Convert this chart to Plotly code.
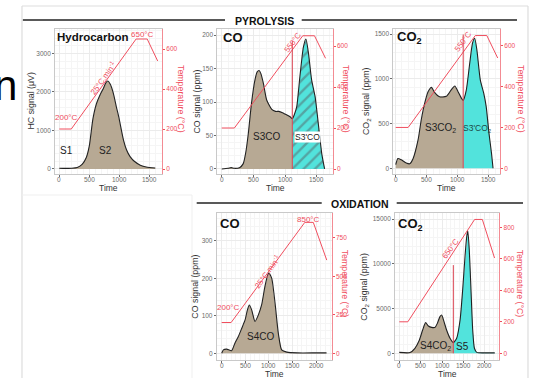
import plotly.graph_objects as go

W, H = 533, 378
def PX(x): return x / W
def PY(y): return 1 - y / H

RED = "#f04e5e"
RED_AX = "#f38b93"
TAN = "#b7a994"
CYAN = "#52e3dc"
TICK_GRAY = "#6b6b6b"
BORDER = "#c9c9c9"
GRID = "#ebebeb"
GRID_MINOR = "#f5f5f5"
FONT = "Liberation Sans, Arial, sans-serif"

# ---------------- data ----------------
hc_time = [0, 100, 200, 300, 380, 450, 500, 560, 620, 680, 730, 780, 810, 850, 900, 950, 990, 1070, 1120, 1180, 1250, 1350, 1450, 1600]
hc_signal = [20, 15, 20, 40, 120, 300, 600, 1300, 1700, 1930, 2080, 2250, 2285, 2200, 1970, 1620, 1360, 750, 500, 320, 200, 100, 50, 25]

co_pyr_time = [0, 100, 150, 200, 280, 340, 380, 420, 470, 525, 560, 590, 620, 660, 710, 790, 850, 900, 960, 1000, 1080, 1115, 1150, 1185, 1235, 1290, 1330, 1370, 1420, 1475, 1525, 1580, 1625]
co_pyr_signal = [0, 1, 2, 1, 2, 8, 25, 53, 98, 133, 145, 147, 142, 127, 103, 89, 86, 86, 84, 82, 78, 75, 82, 93, 138, 182, 194, 173, 133, 108, 68, 23, 0]
co_pyr_split = 1115

co2_pyr_time = [0, 35, 90, 170, 225, 280, 360, 410, 465, 520, 575, 625, 705, 815, 895, 950, 1000, 1055, 1085, 1135, 1190, 1235, 1270, 1305, 1360, 1415, 1455, 1500, 1540, 1565]
co2_pyr_signal = [40, 110, 95, 58, 50, 110, 320, 540, 725, 855, 905, 850, 800, 805, 880, 920, 860, 785, 760, 875, 1175, 1400, 1455, 1325, 990, 840, 690, 390, 170, 0]
co2_pyr_split = 1085

co_ox_time = [0, 35, 105, 210, 280, 350, 425, 495, 545, 585, 635, 705, 775, 845, 915, 975, 1000, 1060, 1130, 1200, 1270, 1380, 1600, 2000, 2220]
co_ox_signal = [0, 9, 11, 7, 27, 44, 67, 89, 116, 129, 116, 85, 102, 129, 178, 209, 215, 200, 134, 53, 9, 3, 1, 1, 1]

co2_ox_time = [0, 250, 365, 470, 545, 615, 680, 755, 835, 890, 950, 990, 1045, 1105, 1185, 1262, 1340, 1420, 1480, 1535, 1575, 1600, 1635, 1675, 1715, 1755, 1810, 2000, 2230]
co2_ox_signal = [100, 80, 560, 1490, 2600, 3430, 3050, 2900, 2900, 3360, 4100, 4280, 3540, 2600, 1680, 1190, 1680, 3720, 7080, 10800, 13050, 13700, 11550, 7080, 2600, 560, 100, 50, 50]
co2_ox_split = 1262

pyr_temp_time = [0, 200, 1280, 1465, 1640]
pyr_temp = [200, 200, 650, 650, 540]
ox_temp_time = [0, 200, 1760, 1940, 2225]
ox_temp = [200, 200, 850, 850, 605]

pyr_time_ticks = [0, 500, 1000, 1500]
ox_time_ticks = [0, 500, 1000, 1500, 2000]

panels = [
    dict(t=hc_time, s=hc_signal, split=None, hatch=False, tt=pyr_temp_time, tv=pyr_temp, split_top=None,
         dom=(55, 162, 29, 174), xr=[-72, 1712], yr=[-130, 3636], tr=[-25, 700],
         xt=pyr_time_ticks, yt=[0, 1000, 2000, 3000], ttk=[0, 200, 400, 600],
         ytitle="HC signal (μV)", ytx=30, ttx=181.5),
    dict(t=co_pyr_time, s=co_pyr_signal, split=co_pyr_split, hatch=True, tt=pyr_temp_time, tv=pyr_temp, split_top=625,
         dom=(217.3, 332.7, 29, 174), xr=[-70, 1753], yr=[-7.5, 209], tr=[-24.4, 683],
         xt=pyr_time_ticks, yt=[0, 50, 100, 150, 200], ttk=[0, 200, 400, 600],
         ytitle="CO signal (ppm)", ytx=196, ttx=346.5),
    dict(t=co2_pyr_time, s=co2_pyr_signal, split=co2_pyr_split, hatch=False, tt=pyr_temp_time, tv=pyr_temp, split_top=655,
         dom=(393.3, 500, 29, 174), xr=[-39, 1677], yr=[-64, 1558], tr=[-28, 682],
         xt=pyr_time_ticks, yt=[0, 500, 1000, 1500], ttk=[0, 200, 400, 600],
         ytitle="CO<sub>2</sub> signal (ppm)", ytx=366.5, ttx=521.5),
    dict(t=co_ox_time, s=co_ox_signal, split=None, hatch=False, tt=ox_temp_time, tv=ox_temp, split_top=None,
         dom=(216.7, 331.7, 213.3, 360), xr=[-106, 2330], yr=[-18, 374], tr=[-43.5, 909],
         xt=ox_time_ticks, yt=[0, 100, 200, 300], ttk=[0, 250, 500, 750],
         ytitle="CO signal (ppm)", ytx=195, ttx=345),
    dict(t=co2_ox_time, s=co2_ox_signal, split=co2_ox_split, hatch=False, tt=ox_temp_time, tv=ox_temp, split_top=560,
         dom=(395, 499.3, 213.3, 360), xr=[-100, 2336], yr=[-750, 15660], tr=[-42.5, 889],
         xt=ox_time_ticks, yt=[0, 5000, 10000, 15000], ttk=[0, 200, 400, 600, 800],
         ytitle="CO<sub>2</sub> signal (ppm)", ytx=365, ttx=520),
]

fig = go.Figure()
layout = dict(width=W, height=H, margin=dict(l=0, r=0, t=0, b=0),
              paper_bgcolor="white", plot_bgcolor="white", showlegend=False,
              font=dict(family=FONT))
annotations = []
shapes = []

def ann(text, x, y, size=9, color="#222", bold=False, angle=0, xanchor="center", yanchor="middle", bg=None):
    if bold:
        text = "<b>" + text + "</b>"
    d = dict(text=text, x=PX(x), y=PY(y), xref="paper", yref="paper", showarrow=False,
             font=dict(size=size, color=color, family=FONT), textangle=angle,
             xanchor=xanchor, yanchor=yanchor, borderpad=0)
    if bg:
        d["bgcolor"] = bg
    annotations.append(d)

for i, p in enumerate(panels, start=1):
    xn = "x" if i == 1 else f"x{i}"
    yn = "y" if i == 1 else f"y{2*i-1}"
    tn = f"y{2*i}"
    xk = "xaxis" if i == 1 else f"xaxis{i}"
    yk = "yaxis" if i == 1 else f"yaxis{2*i-1}"
    tk = f"yaxis{2*i}"
    l, r, top, bot = p["dom"]
    t, s = p["t"], p["s"]
    if p["split"] is None:
        fig.add_trace(go.Scatter(x=t, y=s, xaxis=xn, yaxis=yn, mode="lines", line=dict(width=0),
                                 fill="tozeroy", fillcolor=TAN, hoverinfo="skip"))
    else:
        k = t.index(p["split"])
        fig.add_trace(go.Scatter(x=t[:k+1], y=s[:k+1], xaxis=xn, yaxis=yn, mode="lines", line=dict(width=0),
                                 fill="tozeroy", fillcolor=TAN, hoverinfo="skip"))
        extra = {}
        if p["hatch"]:
            extra["fillpattern"] = dict(shape="/", fgcolor="#56666a", bgcolor=CYAN, size=8, solidity=0.3)
        fig.add_trace(go.Scatter(x=t[k:], y=s[k:], xaxis=xn, yaxis=yn, mode="lines", line=dict(width=0),
                                 fill="tozeroy", fillcolor=CYAN, hoverinfo="skip", **extra))
    fig.add_trace(go.Scatter(x=t, y=s, xaxis=xn, yaxis=yn, mode="lines",
                             line=dict(color="#222222", width=1.1, shape="spline", smoothing=0.6)))
    fig.add_trace(go.Scatter(x=p["tt"], y=p["tv"], xaxis=xn, yaxis=tn, mode="lines",
                             line=dict(color=RED, width=1)))
    if p["split"] is not None:
        fig.add_trace(go.Scatter(x=[p["split"], p["split"]], y=[0, p["split_top"]], xaxis=xn, yaxis=tn,
                                 mode="lines", line=dict(color="#d9404f", width=1)))

    layout[xk] = dict(domain=[PX(l), PX(r)], range=p["xr"], anchor=yn, tickvals=p["xt"],
                      ticks="outside", ticklen=2, tickcolor=TICK_GRAY, tickwidth=0.8,
                      showticklabels=False, showgrid=True, gridcolor=GRID, gridwidth=0.8,
                      minor=dict(showgrid=True, gridcolor=GRID_MINOR, gridwidth=0.5),
                      showline=True, linecolor=BORDER, linewidth=0.8, mirror=True, zeroline=False)
    layout[yk] = dict(domain=[PY(bot), PY(top)], range=p["yr"], anchor=xn, tickvals=p["yt"],
                      tickformat="d",
                      ticks="outside", ticklen=2, tickcolor=TICK_GRAY, tickwidth=0.8,
                      tickfont=dict(size=6.5, color=TICK_GRAY), showgrid=True, gridcolor=GRID, gridwidth=0.8,
                      minor=dict(showgrid=True, gridcolor=GRID_MINOR, gridwidth=0.5),
                      showline=True, linecolor=BORDER, linewidth=0.8, zeroline=False)
    layout[tk] = dict(overlaying=yn, side="right", anchor=xn, range=p["tr"], tickvals=p["ttk"],
                      ticks="outside", ticklen=2, tickcolor=RED, tickwidth=0.8,
                      tickfont=dict(size=6.5, color=RED), showgrid=False,
                      showline=True, linecolor=RED_AX, linewidth=1, zeroline=False)

    # x tick labels placed through the x axis scale
    lab_y = bot + 5.5
    for v in p["xt"]:
        annotations.append(dict(text=str(v), x=v, xref=xn, y=PY(lab_y), yref="paper", showarrow=False,
                                font=dict(size=6.5, color=TICK_GRAY, family=FONT),
                                xanchor="center", yanchor="middle", borderpad=0))

    cy = (top + bot) / 2
    ann(p["ytitle"], p["ytx"], cy, size=8.8, color="#333", angle=-90)
    ann("Temperature (°C)", p["ttx"], cy - 3, size=8.8, color=RED, angle=90)
    ann("Time", (l + r) / 2, bot + 14, size=8.5, color="#333")

# panel texts
ann("Hydrocarbon", 56, 37, size=11.5, color="#111", bold=True, xanchor="left")
ann("650°C", 142, 35, size=8, color=RED)
ann("200°C", 66.5, 117, size=8, color=RED)
ann("25°C.min<sup>-1</sup>", 103, 78, size=8, color=RED, angle=-54)
ann("S1", 66.7, 150.7, size=10, color="#222")
ann("S2", 105, 150.7, size=10, color="#222")

ann("CO", 222, 37, size=13, color="#111", bold=True, xanchor="left")
ann("550°C", 293, 43, size=8, color=RED, angle=-54)
ann("S3CO", 266.7, 136.7, size=10, color="#222")
ann("S3'CO", 307, 136.7, size=8.5, color="#222", bg="white")

ann("CO<sub>2</sub>", 396, 38, size=13, color="#111", bold=True, xanchor="left")
ann("550°C", 463.3, 41.7, size=8, color=RED, angle=-54)
ann("S3CO<sub>2</sub>", 440, 128.3, size=10, color="#222")
ann("S3'CO<sub>2</sub>", 477, 128.3, size=8.5, color="#1d4a48")

ann("CO", 219, 223.3, size=13, color="#111", bold=True, xanchor="left")
ann("850°C", 308.3, 219, size=8, color=RED)
ann("200°C", 228.3, 307.3, size=8, color=RED)
ann("25°C.min<sup>-1</sup>", 266.7, 271.7, size=8, color=RED, angle=-54)
ann("S4CO", 260, 336, size=10, color="#222")

ann("CO<sub>2</sub>", 397, 224, size=13, color="#111", bold=True, xanchor="left")
ann("650°C", 450.7, 248.3, size=8, color=RED, angle=-54)
ann("S4CO<sub>2</sub>", 435, 346, size=10, color="#222")
ann("S5", 462.3, 346, size=10, color="#222")

# section headers
ann("PYROLYSIS", 264, 21, size=10.5, color="#111", bold=True)
ann("OXIDATION", 359.5, 203.5, size=10.5, color="#111", bold=True)
ann("n", 5.5, 85, size=42, color="#000")

def hline(x0, x1, y, color="#222", width=1.5):
    shapes.append(dict(type="line", xref="paper", yref="paper", x0=PX(x0), x1=PX(x1), y0=PY(y), y1=PY(y),
                       line=dict(color=color, width=width)))
def vline(x, y0, y1, color, width=1):
    shapes.append(dict(type="line", xref="paper", yref="paper", x0=PX(x), x1=PX(x), y0=PY(y0), y1=PY(y1),
                       line=dict(color=color, width=width)))

hline(22.7, 225, 20)
hline(301.7, 517, 20)
hline(196.7, 321.7, 203)
hline(396.7, 523, 203)
# outer frame
hline(22, 528, 6, color="#dddddd", width=1.2)
vline(22, 6, 378, "#dddddd", 1.2)
vline(528, 6, 378, "#dddddd", 1.2)
hline(22, 192, 195, color="#efefef", width=1)
vline(192, 195, 378, "#efefef", 1)

layout["annotations"] = annotations
layout["shapes"] = shapes
fig.update_layout(**layout)
fig.write_html("out.html")
